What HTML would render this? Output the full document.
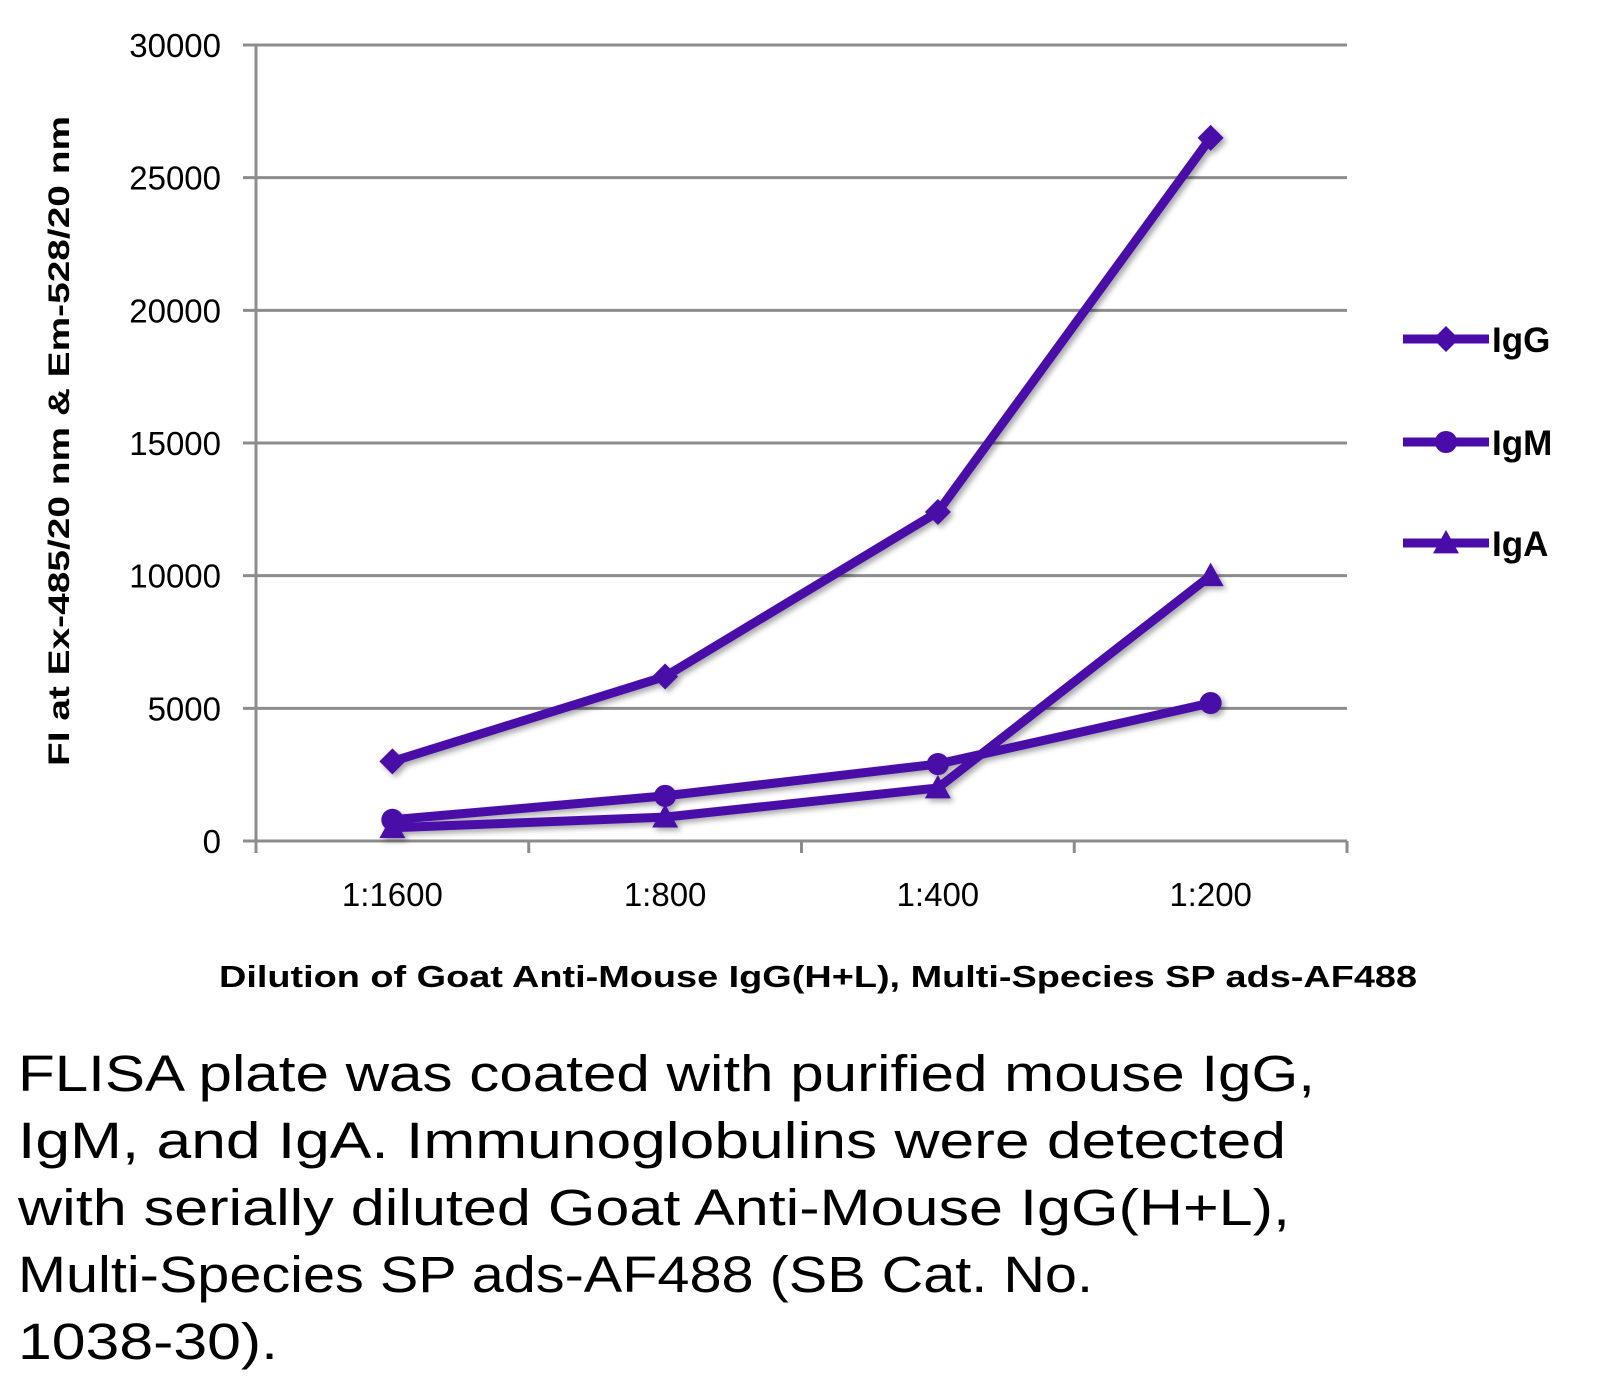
<!DOCTYPE html>
<html><head><meta charset="utf-8"><style>
html,body{margin:0;padding:0;background:#fff;}
svg{display:block;}
text{font-family:"Liberation Sans",sans-serif;}
</style></head><body>
<svg id="chart" width="1608" height="1384" viewBox="0 0 1608 1384" xmlns="http://www.w3.org/2000/svg">
<defs><filter id="sh" x="-10%" y="-10%" width="130%" height="130%"><feDropShadow dx="3" dy="3" stdDeviation="3" flood-color="#000" flood-opacity="0.35"/></filter></defs>
<g id="grid"></g>
<g id="axes"></g>
<g id="series" filter="url(#sh)"></g>
<text transform="translate(69,441) rotate(-90)" text-anchor="middle" font-size="30" font-weight="bold" textLength="650" lengthAdjust="spacingAndGlyphs">FI at Ex-485/20 nm &amp; Em-528/20 nm</text>
<text x="818" y="987" text-anchor="middle" font-size="31" font-weight="bold" textLength="1198" lengthAdjust="spacingAndGlyphs">Dilution of Goat Anti-Mouse IgG(H+L), Multi-Species SP ads-AF488</text>
<g id="legend"></g>
<g font-size="51" fill="#000">
<text x="18" y="1091" textLength="1297" lengthAdjust="spacingAndGlyphs">FLISA plate was coated with purified mouse IgG,</text>
<text x="18" y="1158" textLength="1268" lengthAdjust="spacingAndGlyphs">IgM, and IgA.  Immunoglobulins were detected</text>
<text x="18" y="1225" textLength="1272" lengthAdjust="spacingAndGlyphs">with serially diluted Goat Anti-Mouse IgG(H+L),</text>
<text x="18" y="1292" textLength="1075" lengthAdjust="spacingAndGlyphs">Multi-Species SP ads-AF488 (SB Cat. No.</text>
<text x="18" y="1359" textLength="260" lengthAdjust="spacingAndGlyphs">1038-30).</text>
</g>
</svg>
<script>
const categories = ["1:1600","1:800","1:400","1:200"];
const igG = [3000, 6200, 12400, 26500];
const igM = [800, 1700, 2900, 5200];
const igA = [500, 900, 2000, 10000];
const yTicks = [0,5000,10000,15000,20000,25000,30000];
const seriesNames = ["IgG","IgM","IgA"];

const NS="http://www.w3.org/2000/svg";
const X0=256, X1=1347, Y0=841, Y1=45, YMAX=30000;
const band=(X1-X0)/categories.length;
const xs=i=>X0+band*(i+0.5);
const ys=v=>Y0-(v/YMAX)*(Y0-Y1);
const C="#4a0ca8";
function mk(tag,attrs,parent){const e=document.createElementNS(NS,tag);for(const k in attrs)e.setAttribute(k,attrs[k]);parent.appendChild(e);return e;}
const grid=document.getElementById('grid'),axes=document.getElementById('axes'),ser=document.getElementById('series'),leg=document.getElementById('legend');
yTicks.forEach(t=>{
  const y=ys(t);
  if(t>0){const l=mk('line',{x1:X0-13,x2:X1,y1:y,y2:y,stroke:'#8c8c8c','stroke-width':3},grid);
  
  }
  const tx=mk('text',{x:221,y:y+12,'text-anchor':'end','font-size':33},axes);
  tx.textContent=t;
  
  
});
let a=mk('line',{x1:X0,x2:X0,y1:Y1,y2:Y0+10,stroke:'#8c8c8c','stroke-width':3},axes);


a=mk('line',{x1:X0-13,x2:X1,y1:Y0,y2:Y0,stroke:'#8c8c8c','stroke-width':3},axes);


for(let i=0;i<=categories.length;i++){
  const x=X0+band*i;
  const t=mk('line',{x1:x,x2:x,y1:Y0,y2:Y0+12,stroke:'#8c8c8c','stroke-width':3},axes);
  
  
}
categories.forEach((c,i)=>{
  const t=mk('text',{x:xs(i),y:906,'text-anchor':'middle','font-size':33},axes);
  t.textContent=c;
  
  
});
function marker(kind,x,y,p,s){
  let m;
  if(kind==='diamond') m=mk('polygon',{points:`${x},${y-s} ${x+s},${y} ${x},${y+s} ${x-s},${y}`,fill:C},p);
  else if(kind==='circle') m=mk('circle',{cx:x,cy:y,r:s*0.85,fill:C},p);
  else m=mk('polygon',{points:`${x},${y-s} ${x+s},${y+s*0.8} ${x-s},${y+s*0.8}`,fill:C},p);
  return m;
}
const all=[igG,igM,igA], kinds=['diamond','circle','triangle'];
all.forEach((vals,si)=>{
  const g=mk('g',{},ser);
  
  
  const pl=mk('polyline',{points:vals.map((v,i)=>xs(i)+','+ys(v)).join(' '),fill:'none',stroke:C,'stroke-width':9,'stroke-linejoin':'round'},g);
  
  
  vals.forEach((v,i)=>{
    const m=marker(kinds[si],xs(i),ys(v),g,13);
    
    
  });
});
const ly=[339,442,543];
seriesNames.forEach((n,si)=>{
  const g=mk('g',{},leg);
  
  
  mk('line',{x1:1403,x2:1489,y1:ly[si],y2:ly[si],stroke:C,'stroke-width':9},g);
  marker(kinds[si],1446,ly[si],g,13);
  const t=mk('text',{x:1492,y:ly[si]+13,'font-size':35,'font-weight':'bold'},g);
  t.textContent=n;
});
</script>
</body></html>
